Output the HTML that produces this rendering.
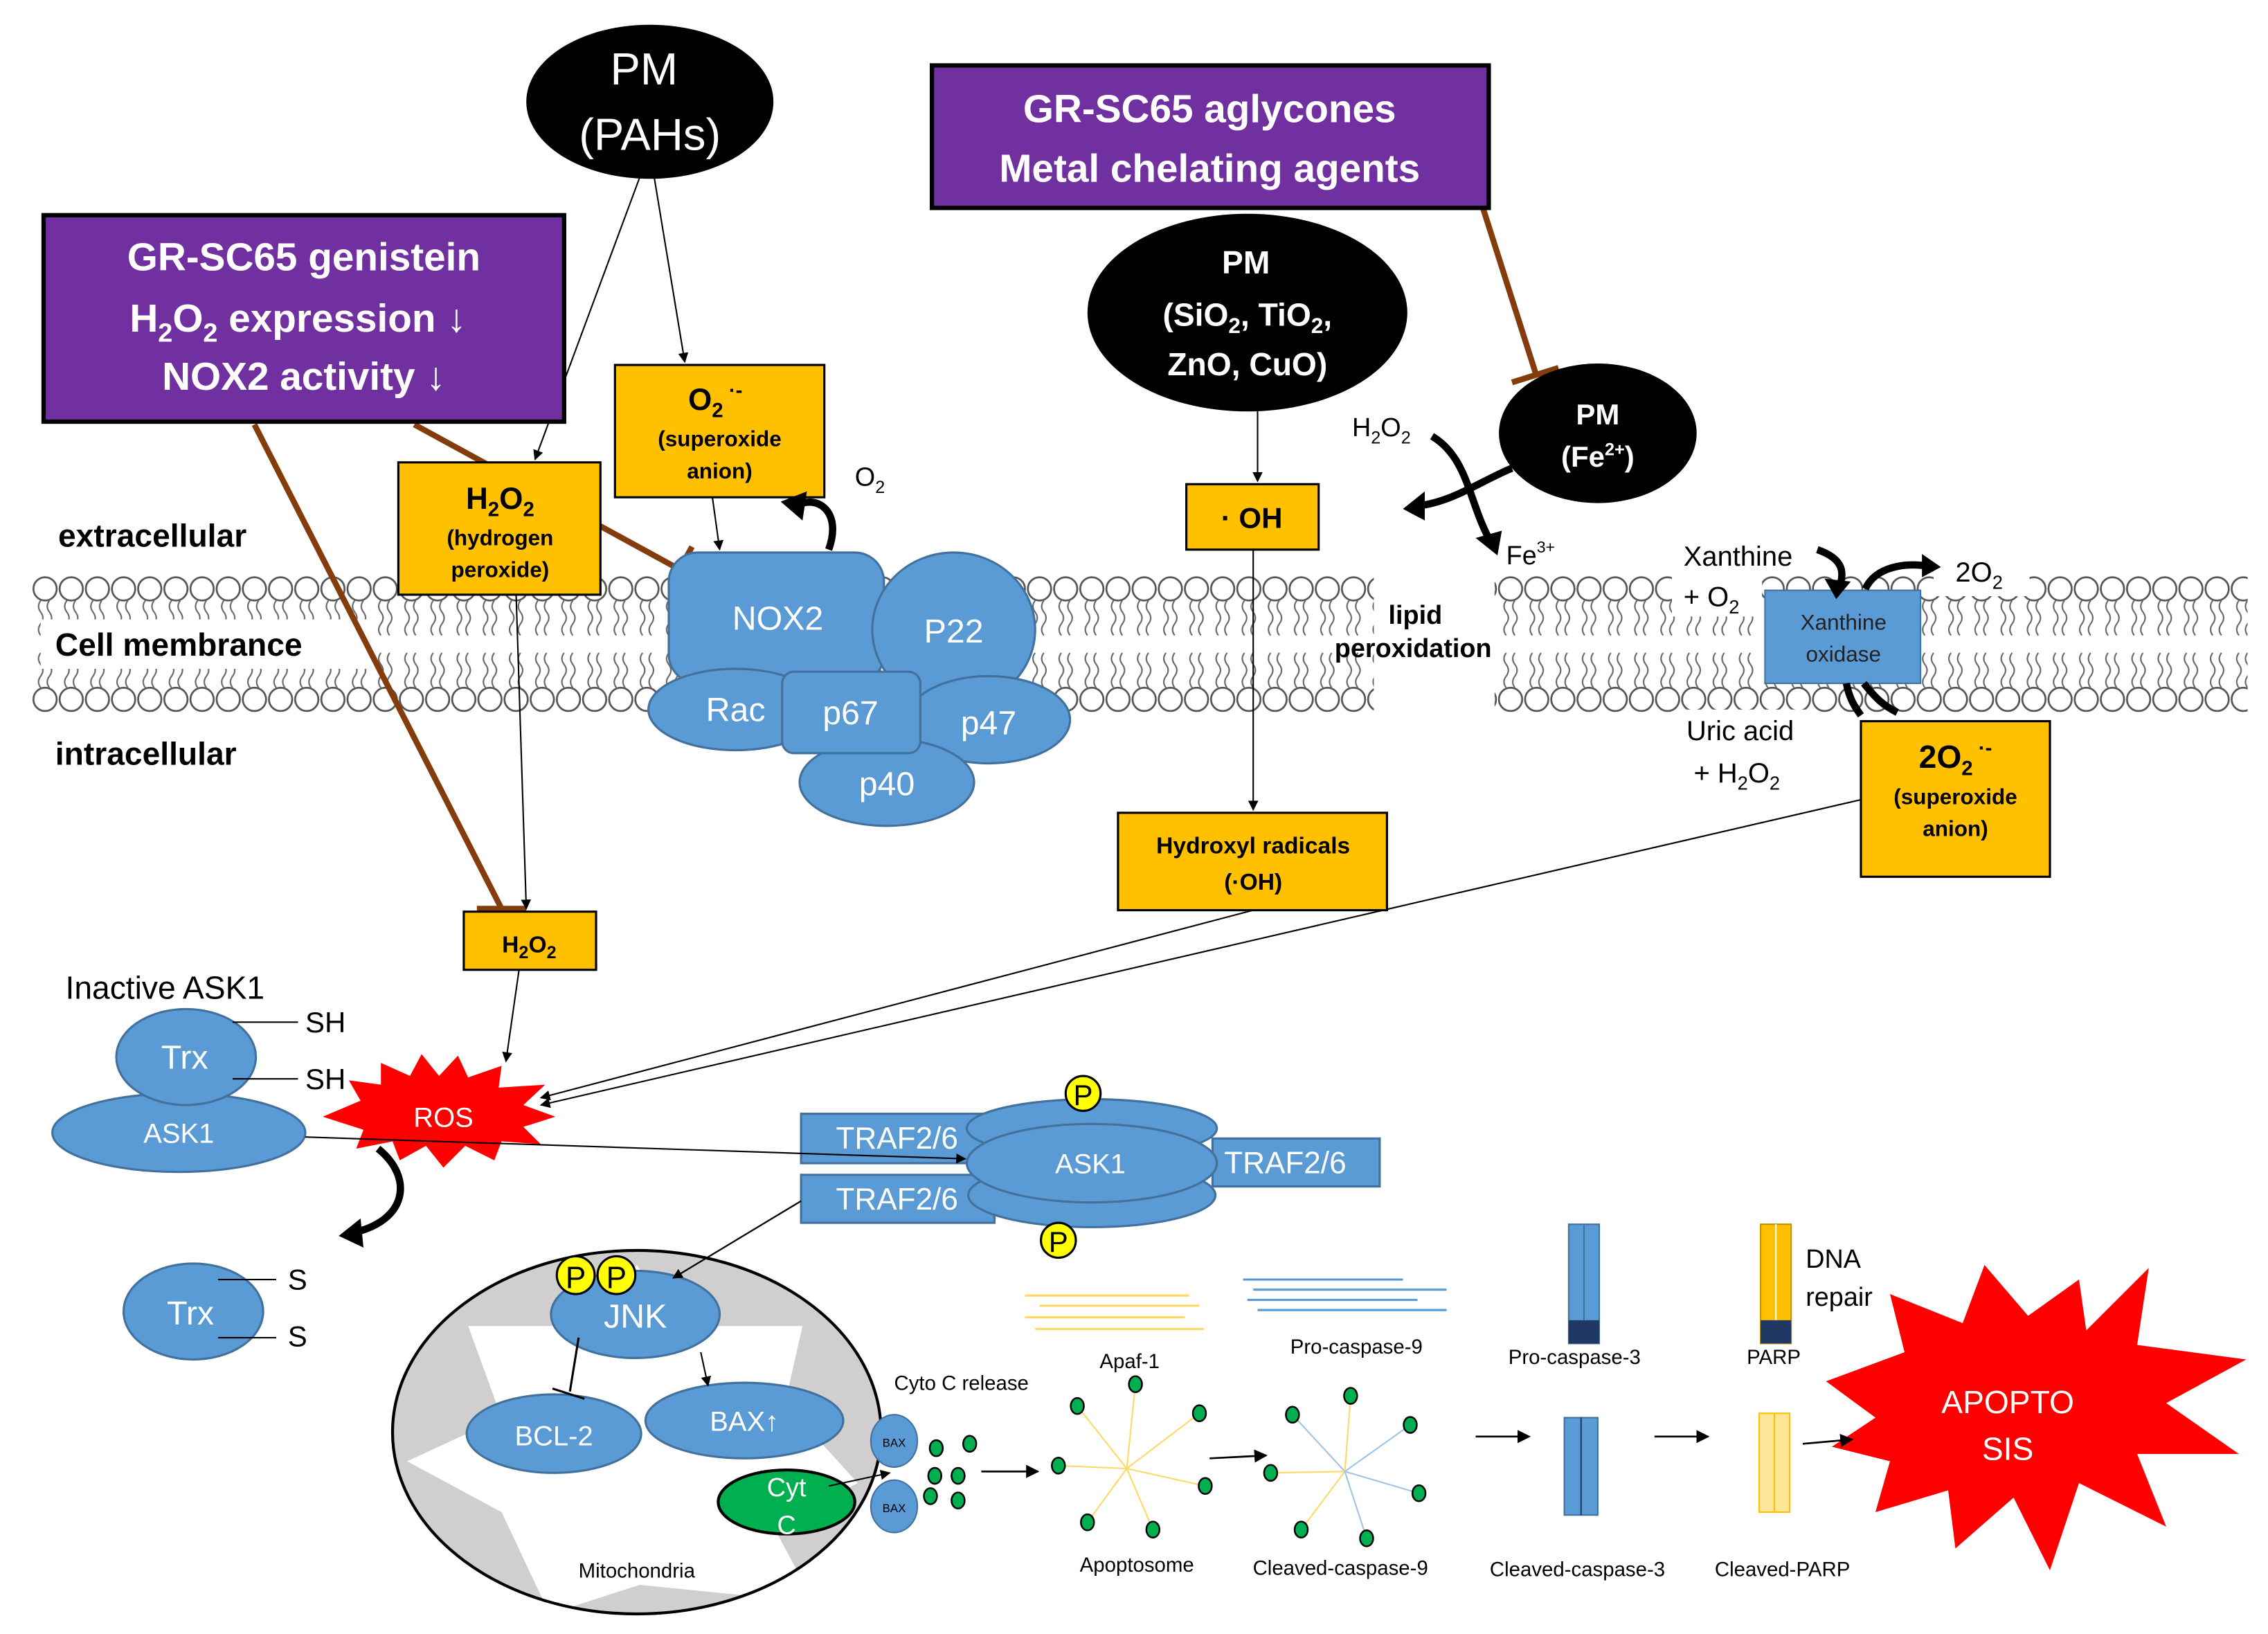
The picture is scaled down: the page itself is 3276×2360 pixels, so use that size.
<!DOCTYPE html>
<html><head><meta charset="utf-8"><style>
html,body{margin:0;padding:0;background:#fff;}
svg{display:block;}
text{font-family:"Liberation Sans",sans-serif;}
</style></head><body>
<svg width="3276" height="2360" viewBox="0 0 1560 1123.8" preserveAspectRatio="none" xmlns="http://www.w3.org/2000/svg">
<defs>
<pattern id="mem" x="22" y="396" width="18" height="94" patternUnits="userSpaceOnUse">
<circle cx="9" cy="9" r="8" fill="#fff" stroke="#555" stroke-width="1.3"/>
<circle cx="9" cy="85" r="8" fill="#fff" stroke="#555" stroke-width="1.3"/>
<path d="M6 17 q-3 4 0 8 q3 4 0 8 q-3 4 0 8 M12 17 q-3 4 0 8 q3 4 0 8 q-3 4 0 8 M6 53 q-3 4 0 8 q3 4 0 8 q-3 4 0 8 M12 53 q-3 4 0 8 q3 4 0 8 q-3 4 0 8" fill="none" stroke="#666" stroke-width="1"/>
</pattern>
<marker id="ar" viewBox="0 0 10 10" refX="9" refY="5" markerWidth="7" markerHeight="7" orient="auto"><path d="M0 0L10 5L0 10z" fill="#000"/></marker>
<clipPath id="mc"><ellipse cx="438" cy="985" rx="167" ry="124"/></clipPath>
</defs>
<!-- membrane -->
<rect x="22" y="396" width="923" height="94" fill="url(#mem)"/>
<rect x="1028" y="396" width="518" height="94" fill="url(#mem)"/>
<rect x="28" y="426" width="225" height="34" fill="#fff"/>
<rect x="1150" y="368" width="62" height="56" fill="#fff"/>
<rect x="1158" y="488" width="86" height="60" fill="#fff"/>
<rect x="1330" y="380" width="66" height="30" fill="#fff"/>
<text x="40" y="376" font-size="22" font-weight="bold">extracellular</text>
<text x="38" y="451" font-size="22" font-weight="bold">Cell membrance</text>
<text x="38" y="526" font-size="22" font-weight="bold">intracellular</text>

<!-- connectors top -->
<line x1="440" y1="122" x2="368" y2="316" stroke="#000" stroke-width="1" marker-end="url(#ar)"/>
<line x1="450" y1="122" x2="471" y2="249" stroke="#000" stroke-width="1" marker-end="url(#ar)"/>
<line x1="490" y1="342" x2="495" y2="378" stroke="#000" stroke-width="1" marker-end="url(#ar)"/>
<line x1="285" y1="292" x2="470" y2="393" stroke="#843c0c" stroke-width="4"/>
<line x1="461" y1="403" x2="476" y2="376" stroke="#843c0c" stroke-width="4"/>
<line x1="175" y1="292" x2="345" y2="625" stroke="#843c0c" stroke-width="4"/>
<line x1="328" y1="625" x2="362" y2="625" stroke="#843c0c" stroke-width="4"/>
<line x1="1020" y1="143" x2="1057" y2="259" stroke="#843c0c" stroke-width="4"/>
<line x1="1040" y1="263" x2="1072" y2="253" stroke="#843c0c" stroke-width="4"/>
<line x1="355" y1="409" x2="362" y2="625" stroke="#000" stroke-width="1" marker-end="url(#ar)"/>
<line x1="357" y1="667" x2="348" y2="730" stroke="#000" stroke-width="1" marker-end="url(#ar)"/>
<line x1="865" y1="282" x2="865" y2="331" stroke="#000" stroke-width="1" marker-end="url(#ar)"/>
<line x1="862" y1="378" x2="862" y2="557" stroke="#000" stroke-width="1" marker-end="url(#ar)"/>
<line x1="862" y1="626" x2="372" y2="755" stroke="#000" stroke-width="1" marker-end="url(#ar)"/>
<line x1="1280" y1="550" x2="372" y2="760" stroke="#000" stroke-width="1" marker-end="url(#ar)"/>

<!-- black ellipses -->
<ellipse cx="447" cy="70" rx="85" ry="53" fill="#000"/>
<text x="443" y="58" font-size="31" fill="#fff" text-anchor="middle">PM</text>
<text x="447" y="103" font-size="31" fill="#fff" text-anchor="middle">(PAHs)</text>
<ellipse cx="858" cy="215" rx="110" ry="68" fill="#000"/>
<text x="857" y="188" font-size="22" font-weight="bold" fill="#fff" text-anchor="middle">PM</text>
<text x="858" y="224" font-size="22" font-weight="bold" fill="#fff" text-anchor="middle">(SiO<tspan font-size="15" dy="5">2</tspan><tspan dy="-5">, TiO</tspan><tspan font-size="15" dy="5">2</tspan><tspan dy="-5">,</tspan></text>
<text x="858" y="258" font-size="22" font-weight="bold" fill="#fff" text-anchor="middle">ZnO, CuO)</text>
<ellipse cx="1099" cy="298" rx="68" ry="48" fill="#000"/>
<text x="1099" y="292" font-size="20" font-weight="bold" fill="#fff" text-anchor="middle">PM</text>
<text x="1099" y="321" font-size="20" font-weight="bold" fill="#fff" text-anchor="middle">(Fe<tspan font-size="12" dy="-8">2+</tspan><tspan dy="8">)</tspan></text>

<!-- purple boxes -->
<rect x="30" y="148" width="358" height="142" fill="#7030a0" stroke="#000" stroke-width="3"/>
<text x="209" y="186" font-size="27" font-weight="bold" fill="#fff" text-anchor="middle">GR-SC65 genistein</text>
<text x="205" y="228" font-size="27" font-weight="bold" fill="#fff" text-anchor="middle">H<tspan font-size="18" dy="7">2</tspan><tspan dy="-7">O</tspan><tspan font-size="18" dy="7">2</tspan><tspan dy="-7"> expression  ↓</tspan></text>
<text x="209" y="268" font-size="27" font-weight="bold" fill="#fff" text-anchor="middle">NOX2 activity ↓</text>
<rect x="641" y="45" width="383" height="98" fill="#7030a0" stroke="#000" stroke-width="3"/>
<text x="832" y="84" font-size="27" font-weight="bold" fill="#fff" text-anchor="middle">GR-SC65 aglycones</text>
<text x="832" y="125" font-size="27" font-weight="bold" fill="#fff" text-anchor="middle">Metal chelating agents</text>

<!-- NOX2 complex -->
<g fill="#5b9bd5" stroke="#41719c" stroke-width="1.5">
<rect x="460" y="380" width="148" height="90" rx="20"/>
<ellipse cx="656" cy="433" rx="56" ry="53"/>
<ellipse cx="506" cy="488" rx="60" ry="28"/>
<ellipse cx="680" cy="495" rx="56" ry="30"/>
<ellipse cx="610" cy="538" rx="60" ry="30"/>
<rect x="538" y="462" width="95" height="56" rx="8"/>
</g>
<g fill="#fff" font-size="23" text-anchor="middle">
<text x="535" y="433">NOX2</text><text x="656" y="442">P22</text><text x="506" y="496">Rac</text>
<text x="585" y="498">p67</text><text x="680" y="505">p47</text><text x="610" y="547">p40</text>
</g>

<!-- yellow boxes -->
<g fill="#ffc000" stroke="#000" stroke-width="1.5">
<rect x="423" y="251" width="144" height="91"/>
<rect x="274" y="318" width="139" height="91"/>
<rect x="816" y="333" width="91" height="45"/>
<rect x="769" y="559" width="185" height="67"/>
<rect x="319" y="627" width="91" height="40"/>
<rect x="1280" y="496" width="130" height="107"/>
</g>
<g font-weight="bold" text-anchor="middle">
<text x="492" y="282" font-size="21">O<tspan font-size="14" dy="5">2</tspan><tspan font-size="14" dy="-14"> ·-</tspan></text>
<text x="495" y="307" font-size="15">(superoxide</text><text x="495" y="329" font-size="15">anion)</text>
<text x="344" y="350" font-size="21">H<tspan font-size="14" dy="5">2</tspan><tspan dy="-5">O</tspan><tspan font-size="14" dy="5">2</tspan></text>
<text x="344" y="375" font-size="15">(hydrogen</text><text x="344" y="397" font-size="15">peroxide)</text>
<text x="861" y="363" font-size="20">· OH</text>
<text x="862" y="587" font-size="16">Hydroxyl radicals</text><text x="862" y="612" font-size="16">(·OH)</text>
<text x="364" y="655" font-size="16">H<tspan font-size="12" dy="4">2</tspan><tspan dy="-4">O</tspan><tspan font-size="12" dy="4">2</tspan></text>
<text x="1345" y="528" font-size="22">2O<tspan font-size="14" dy="5">2</tspan><tspan font-size="14" dy="-14"> ·-</tspan></text>
<text x="1345" y="553" font-size="15">(superoxide</text><text x="1345" y="575" font-size="15">anion)</text>
</g>

<!-- right membrane labels -->
<text x="955" y="429" font-size="18" font-weight="bold">lipid</text>
<text x="918" y="452" font-size="18" font-weight="bold">peroxidation</text>
<rect x="1214" y="406" width="107" height="64" fill="#5b9bd5" stroke="#41719c"/>
<text x="1268" y="433" font-size="15" fill="#222" text-anchor="middle">Xanthine</text>
<text x="1268" y="455" font-size="15" fill="#222" text-anchor="middle">oxidase</text>
<text x="1158" y="389" font-size="19">Xanthine</text>
<text x="1158" y="417" font-size="19">+ O<tspan font-size="13" dy="5">2</tspan></text>
<text x="1345" y="400" font-size="19">2O<tspan font-size="13" dy="5">2</tspan></text>
<text x="1160" y="509" font-size="19">Uric acid</text>
<text x="1165" y="538" font-size="19">+ H<tspan font-size="13" dy="5">2</tspan><tspan dy="-5">O</tspan><tspan font-size="13" dy="5">2</tspan></text>
<text x="930" y="300" font-size="18">H<tspan font-size="12" dy="5">2</tspan><tspan dy="-5">O</tspan><tspan font-size="12" dy="5">2</tspan></text>
<text x="1036" y="388" font-size="18">Fe<tspan font-size="11" dy="-8">3+</tspan></text>
<text x="588" y="334" font-size="18">O<tspan font-size="12" dy="5">2</tspan></text>

<!-- curved thick arrows -->
<g fill="none" stroke="#000" stroke-width="5">
<path d="M570 378 C580 350 560 340 548 348"/>
<path d="M985 300 C1010 315 1010 345 1025 372"/>
<path d="M1040 322 C1020 330 1000 345 975 348"/>
<path d="M1250 378 C1270 385 1268 395 1265 405"/>
<path d="M1270 470 C1272 480 1275 485 1280 492"/>
<path d="M1283 405 C1290 390 1310 386 1330 390"/>
<path d="M1282 470 C1290 480 1295 485 1305 490"/>
<path d="M260 790 C285 810 280 840 242 848"/>
</g>
<g fill="#000">
<path d="M537 345 L555 338 L552 358 Z"/>
<path d="M1030 382 L1015 370 L1033 365 Z"/>
<path d="M965 350 L980 338 L980 358 Z"/>
<path d="M1263 412 L1255 398 L1273 400 Z"/>
<path d="M1335 390 L1322 381 L1322 397 Z"/>
<path d="M233 850 L248 838 L250 858 Z"/>
</g>

<!-- ASK1 inactive -->
<text x="45" y="687" font-size="22">Inactive ASK1</text>
<ellipse cx="123" cy="779" rx="87" ry="27" fill="#5b9bd5" stroke="#41719c" stroke-width="1.5"/>
<ellipse cx="128" cy="727" rx="48" ry="33" fill="#5b9bd5" stroke="#41719c" stroke-width="1.5"/>
<text x="127" y="735" font-size="23" fill="#fff" text-anchor="middle">Trx</text>
<text x="123" y="786" font-size="19" fill="#fff" text-anchor="middle">ASK1</text>
<line x1="160" y1="703" x2="205" y2="703" stroke="#000"/><text x="210" y="710" font-size="20">SH</text>
<line x1="160" y1="742" x2="205" y2="742" stroke="#000"/><text x="210" y="749" font-size="20">SH</text>
<!-- ROS -->
<path d="M222 768 L248 757 L240 743 L262 746 L262 731 L282 740 L290 725 L302 740 L315 726 L322 741 L345 733 L343 748 L375 746 L360 760 L382 768 L360 775 L372 787 L345 785 L340 798 L320 788 L305 803 L293 788 L275 798 L270 785 L245 790 L250 777 Z" fill="#f00"/>
<text x="305" y="775" font-size="19" fill="#fff" text-anchor="middle">ROS</text>
<ellipse cx="133" cy="902" rx="48" ry="33" fill="#5b9bd5" stroke="#41719c" stroke-width="1.5"/>
<text x="131" y="911" font-size="23" fill="#fff" text-anchor="middle">Trx</text>
<line x1="150" y1="880" x2="190" y2="880" stroke="#000"/><text x="198" y="887" font-size="20">S</text>
<line x1="150" y1="920" x2="190" y2="920" stroke="#000"/><text x="198" y="926" font-size="20">S</text>

<!-- ASK1 complex -->
<g fill="#5b9bd5" stroke="#41719c" stroke-width="1.5">
<rect x="551" y="766" width="133" height="34"/>
<rect x="551" y="808" width="133" height="33"/>
<rect x="834" y="783" width="115" height="33"/>
<ellipse cx="751" cy="822" rx="85" ry="22"/>
<ellipse cx="751" cy="776" rx="86" ry="20"/>
<ellipse cx="751" cy="800" rx="86" ry="27"/>
</g>
<g fill="#fff" font-size="21" text-anchor="middle">
<text x="617" y="790">TRAF2/6</text><text x="617" y="832">TRAF2/6</text><text x="884" y="807">TRAF2/6</text>
<text x="750" y="807" font-size="19">ASK1</text>
</g>
<line x1="210" y1="782" x2="664" y2="797" stroke="#000" stroke-width="1" marker-end="url(#ar)"/>
<g fill="#ff0" stroke="#000" stroke-width="1.5">
<circle cx="745" cy="752" r="12"/><circle cx="728" cy="853" r="12"/>
</g>
<text x="745" y="760" font-size="20" text-anchor="middle">P</text>
<text x="728" y="861" font-size="20" text-anchor="middle">P</text>

<!-- Mitochondria -->
<ellipse cx="438" cy="985" rx="168" ry="125" fill="#d0cece" stroke="#000" stroke-width="2"/>
<path clip-path="url(#mc)" d="M322 912 L408 912 L438 870 L465 912 L552 912 L540 965 L590 1020 L532 1050 L560 1102 L440 1090 L378 1110 L345 1040 L280 1005 L345 975 Z" fill="#fff"/>
<line x1="551" y1="826" x2="463" y2="879" stroke="#000" stroke-width="1" marker-end="url(#ar)"/>
<ellipse cx="381" cy="986" rx="60" ry="27" fill="#5b9bd5" stroke="#41719c" stroke-width="1.5"/>
<ellipse cx="512" cy="977" rx="68" ry="26" fill="#5b9bd5" stroke="#41719c" stroke-width="1.5"/>
<ellipse cx="437" cy="904" rx="58" ry="30" fill="#5b9bd5" stroke="#41719c" stroke-width="1.5"/>
<line x1="551" y1="826" x2="463" y2="879" stroke="#000" stroke-width="1" marker-end="url(#ar)"/>
<text x="437" y="913" font-size="23" fill="#fff" text-anchor="middle">JNK</text>
<text x="381" y="994" font-size="19" fill="#fff" text-anchor="middle">BCL-2</text>
<text x="512" y="984" font-size="19" fill="#fff" text-anchor="middle">BAX↑</text>
<circle cx="396" cy="877" r="13" fill="#ff0" stroke="#000" stroke-width="1.5"/>
<circle cx="424" cy="877" r="13" fill="#ff0" stroke="#000" stroke-width="1.5"/>
<text x="396" y="886" font-size="21" text-anchor="middle">P</text><text x="424" y="886" font-size="21" text-anchor="middle">P</text>
<line x1="398" y1="920" x2="392" y2="957" stroke="#000" stroke-width="1.5"/>
<line x1="380" y1="955" x2="402" y2="962" stroke="#000" stroke-width="1.5"/>
<line x1="482" y1="930" x2="487" y2="953" stroke="#000" stroke-width="1" marker-end="url(#ar)"/>
<ellipse cx="541" cy="1033" rx="47" ry="22" fill="#00b050" stroke="#000" stroke-width="2"/>
<text x="541" y="1029" font-size="18" fill="#fff" text-anchor="middle">Cyt</text>
<text x="541" y="1055" font-size="18" fill="#fff" text-anchor="middle">C</text>
<line x1="570" y1="1022" x2="612" y2="1013" stroke="#000" stroke-width="1" marker-end="url(#ar)"/>
<ellipse cx="615" cy="991" rx="16" ry="18" fill="#5b9bd5" stroke="#41719c"/>
<ellipse cx="615" cy="1036" rx="16" ry="18" fill="#5b9bd5" stroke="#41719c"/>
<text x="615" y="995" font-size="8" text-anchor="middle">BAX</text><text x="615" y="1040" font-size="8" text-anchor="middle">BAX</text>
<text x="438" y="1085" font-size="14" text-anchor="middle">Mitochondria</text>
<text x="615" y="956" font-size="14">Cyto C release</text>
<g fill="#00b050" stroke="#000" stroke-width="1.2">
<ellipse cx="644" cy="996" rx="4.5" ry="5.5"/><ellipse cx="667" cy="993" rx="4.5" ry="5.5"/>
<ellipse cx="643" cy="1015" rx="4.5" ry="5.5"/><ellipse cx="659" cy="1015" rx="4.5" ry="5.5"/>
<ellipse cx="640" cy="1029" rx="4.5" ry="5.5"/><ellipse cx="659" cy="1032" rx="4.5" ry="5.5"/>
</g>
<line x1="675" y1="1012" x2="714" y2="1012" stroke="#000" stroke-width="1.3" marker-end="url(#ar)"/>

<!-- Apoptosome -->
<g stroke="#ffd966" stroke-width="1.5">
<line x1="705" y1="891" x2="818" y2="891"/><line x1="715" y1="898" x2="825" y2="898"/>
<line x1="705" y1="906" x2="815" y2="906"/><line x1="712" y1="914" x2="828" y2="914"/>
</g>
<g stroke="#ffd966" stroke-width="1">
<line x1="775" y1="1010" x2="741" y2="967"/><line x1="775" y1="1010" x2="781" y2="952"/>
<line x1="775" y1="1010" x2="825" y2="972"/><line x1="775" y1="1010" x2="728" y2="1008"/>
<line x1="775" y1="1010" x2="829" y2="1022"/><line x1="775" y1="1010" x2="748" y2="1047"/>
<line x1="775" y1="1010" x2="793" y2="1052"/>
</g>
<g fill="#00b050" stroke="#000" stroke-width="1.2">
<ellipse cx="741" cy="967" rx="4.5" ry="5.5"/><ellipse cx="781" cy="952" rx="4.5" ry="5.5"/>
<ellipse cx="825" cy="972" rx="4.5" ry="5.5"/><ellipse cx="728" cy="1008" rx="4.5" ry="5.5"/>
<ellipse cx="829" cy="1022" rx="4.5" ry="5.5"/><ellipse cx="748" cy="1047" rx="4.5" ry="5.5"/>
<ellipse cx="793" cy="1052" rx="4.5" ry="5.5"/>
</g>
<text x="777" y="941" font-size="14" text-anchor="middle">Apaf-1</text>
<text x="782" y="1081" font-size="14" text-anchor="middle">Apoptosome</text>
<line x1="832" y1="1003" x2="871" y2="1001" stroke="#000" stroke-width="1.3" marker-end="url(#ar)"/>

<!-- Caspase-9 -->
<g stroke="#5b9bd5" stroke-width="1.5">
<line x1="855" y1="880" x2="965" y2="880"/><line x1="862" y1="887" x2="995" y2="887"/>
<line x1="858" y1="894" x2="975" y2="894"/><line x1="865" y1="901" x2="995" y2="901"/>
</g>
<g stroke-width="1">
<line x1="925" y1="1012" x2="889" y2="973" stroke="#9dc3e6"/><line x1="925" y1="1012" x2="929" y2="960" stroke="#ffd966"/>
<line x1="925" y1="1012" x2="970" y2="980" stroke="#9dc3e6"/><line x1="925" y1="1012" x2="874" y2="1013" stroke="#ffd966"/>
<line x1="925" y1="1012" x2="976" y2="1027" stroke="#9dc3e6"/><line x1="925" y1="1012" x2="895" y2="1052" stroke="#ffd966"/>
<line x1="925" y1="1012" x2="940" y2="1058" stroke="#9dc3e6"/>
</g>
<g fill="#00b050" stroke="#000" stroke-width="1.2">
<ellipse cx="889" cy="973" rx="4.5" ry="5.5"/><ellipse cx="929" cy="960" rx="4.5" ry="5.5"/>
<ellipse cx="970" cy="980" rx="4.5" ry="5.5"/><ellipse cx="874" cy="1013" rx="4.5" ry="5.5"/>
<ellipse cx="976" cy="1027" rx="4.5" ry="5.5"/><ellipse cx="895" cy="1052" rx="4.5" ry="5.5"/>
<ellipse cx="940" cy="1058" rx="4.5" ry="5.5"/>
</g>
<text x="933" y="931" font-size="14" text-anchor="middle">Pro-caspase-9</text>
<text x="922" y="1083" font-size="14" text-anchor="middle">Cleaved-caspase-9</text>
<line x1="1015" y1="988" x2="1052" y2="988" stroke="#000" stroke-width="1.3" marker-end="url(#ar)"/>

<!-- Caspase-3 -->
<rect x="1079" y="842" width="21" height="82" fill="#5b9bd5" stroke="#41719c"/>
<line x1="1089.5" y1="842" x2="1089.5" y2="924" stroke="#41719c"/>
<rect x="1079" y="908" width="21" height="16" fill="#1f3864"/>
<text x="1083" y="938" font-size="14" text-anchor="middle">Pro-caspase-3</text>
<rect x="1076" y="975" width="23" height="67" fill="#5b9bd5" stroke="#41719c"/>
<line x1="1087.5" y1="975" x2="1087.5" y2="1042" stroke="#1f3864"/>
<text x="1085" y="1084" font-size="14" text-anchor="middle">Cleaved-caspase-3</text>
<line x1="1138" y1="988" x2="1175" y2="988" stroke="#000" stroke-width="1.3" marker-end="url(#ar)"/>

<!-- PARP -->
<rect x="1211" y="842" width="21" height="82" fill="#ffc000" stroke="#bf9000"/>
<line x1="1221.5" y1="842" x2="1221.5" y2="924" stroke="#fff"/>
<rect x="1211" y="908" width="21" height="16" fill="#1f3864"/>
<text x="1220" y="938" font-size="14" text-anchor="middle">PARP</text>
<text x="1242" y="872" font-size="18">DNA</text>
<text x="1242" y="898" font-size="18">repair</text>
<rect x="1210" y="972" width="21" height="68" fill="#ffe699" stroke="#ffc000"/>
<line x1="1220.5" y1="972" x2="1220.5" y2="1040" stroke="#ffc000"/>
<text x="1226" y="1084" font-size="14" text-anchor="middle">Cleaved-PARP</text>

<!-- APOPTOSIS -->
<path d="M1256 950 L1310 930 L1300 890 L1350 910 L1365 870 L1395 905 L1430 880 L1435 915 L1478 872 L1470 925 L1545 935 L1490 965 L1540 1000 L1470 1000 L1490 1050 L1430 1020 L1410 1080 L1385 1030 L1345 1065 L1340 1025 L1290 1040 L1300 1005 L1260 995 L1290 975 Z" fill="#f00"/>
<line x1="1240" y1="993" x2="1274" y2="990" stroke="#000" stroke-width="1.3" marker-end="url(#ar)"/>
<text x="1381" y="972" font-size="22" fill="#fff" text-anchor="middle">APOPTO</text>
<text x="1381" y="1004" font-size="22" fill="#fff" text-anchor="middle">SIS</text>
</svg>
</body></html>
